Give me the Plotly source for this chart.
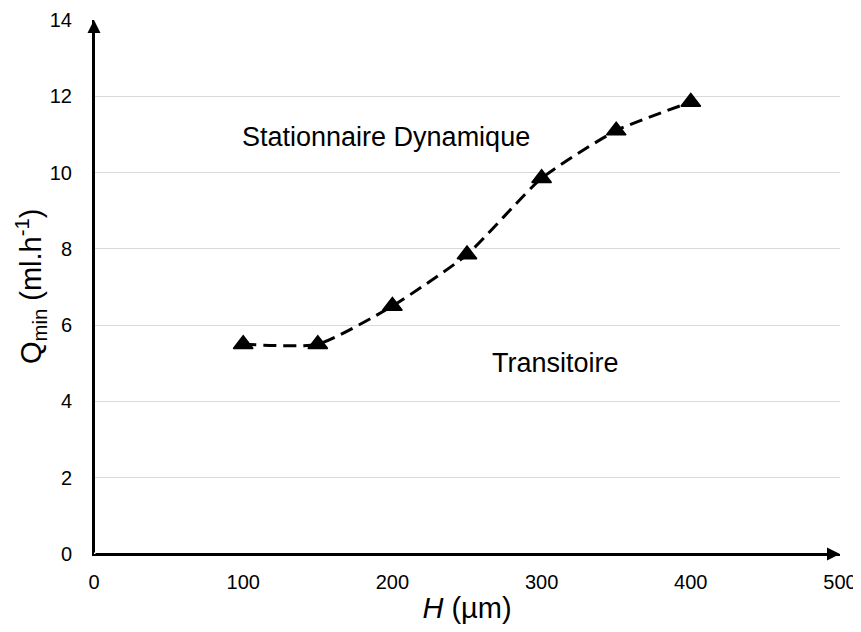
import plotly.graph_objects as go

# Data
H_um = [100, 150, 200, 250, 300, 350, 400]
Q_min = [5.5, 5.5, 6.5, 7.85, 9.85, 11.1, 11.85]
x_ticks = [0, 100, 200, 300, 400, 500]
y_ticks = [0, 2, 4, 6, 8, 10, 12, 14]
region_labels = ["Stationnaire Dynamique", "Transitoire"]
region_x = [196, 309]
region_y = [10.93, 5.0]
y_title = "Q<sub>min</sub> (ml.h<sup>-1</sup>)"

FONT = "Liberation Sans, Arial, sans-serif"

fig = go.Figure()
fig.add_trace(go.Scatter(
    x=H_um, y=Q_min, mode="lines+markers",
    line=dict(color="black", width=3, dash="13px,7px", shape="spline", smoothing=0.55),
    marker=dict(symbol="triangle-up", size=17, color="black", line=dict(color="black", width=1.5)),
    showlegend=False, cliponaxis=False,
))

annotations = []
for t, x, y in zip(region_labels, region_x, region_y):
    annotations.append(dict(x=x, y=y, xref="x", yref="y", text=t, showarrow=False,
                            font=dict(family=FONT, size=27, color="black")))
# y axis title
annotations.append(dict(x=0, y=0.5, xref="paper", yref="paper", text=y_title, showarrow=False,
                        textangle=-90, xanchor="center", yanchor="middle", xshift=-63,
                        font=dict(family=FONT, size=29, color="black")))
# axis arrows
annotations.append(dict(x=0, y=14, ax=0, ay=0, xref="x", yref="y", axref="x", ayref="y",
                        showarrow=True, arrowhead=2, arrowsize=1.3, arrowwidth=2,
                        arrowcolor="black", text=""))
annotations.append(dict(x=500, y=0, ax=0, ay=0, xref="x", yref="y", axref="x", ayref="y",
                        showarrow=True, arrowhead=2, arrowsize=1.3, arrowwidth=2,
                        arrowcolor="black", text=""))

# the page body adds an 8px offset, so the figure is sized to fit the window
fig.update_layout(
    width=853, height=624,
    margin=dict(l=86, r=21, t=12, b=78),
    paper_bgcolor="white", plot_bgcolor="white",
    font=dict(family=FONT, color="black"),
    annotations=annotations,
    xaxis=dict(range=[0, 500], tickvals=x_ticks, showgrid=False, zeroline=False,
               showline=True, linecolor="black", linewidth=2, ticks="", automargin=False,
               tickfont=dict(size=20, color="black"), ticklabelstandoff=9,
               title=dict(text="<i>H</i> (µm)", font=dict(size=29, color="black"), standoff=6)),
    yaxis=dict(range=[0, 14], tickvals=y_ticks, showgrid=True, gridcolor="#d9d9d9", gridwidth=1,
               zeroline=False, showline=True, linecolor="black", linewidth=2, ticks="", automargin=False,
               tickfont=dict(size=20, color="black"), ticklabelstandoff=16),
)

fig.write_html("out.html")
